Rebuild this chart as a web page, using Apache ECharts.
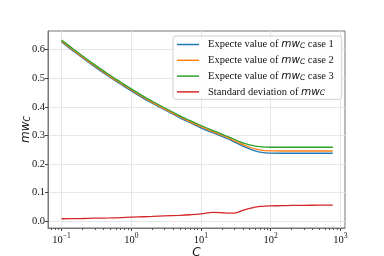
<!DOCTYPE html>
<html><head><meta charset="utf-8">
<script src="https://cdn.jsdelivr.net/npm/echarts@6/dist/echarts.min.js"></script>
<style>html,body{margin:0;padding:0;background:#fff}#c{width:384px;height:256px}</style>
</head><body><div id="c"></div>
<script>
var C =      [0.1, 0.15, 0.2, 0.3, 0.5, 0.7, 1, 1.5, 2, 3, 5, 7, 10, 15, 20, 25, 30, 35, 40, 50, 60, 70, 85, 100, 150, 200, 300, 500, 780];
var case1 =  [0.627,0.594,0.571,0.540,0.503,0.480,0.456,0.430,0.413,0.390,0.362,0.345,0.327,0.309,0.297,0.287,0.278,0.270,0.263,0.253,0.246,0.242,0.2395,0.2385,0.238,0.238,0.238,0.238,0.238];
var case2 =  [0.630,0.597,0.574,0.543,0.506,0.483,0.459,0.433,0.416,0.393,0.365,0.348,0.331,0.313,0.301,0.291,0.282,0.275,0.268,0.259,0.253,0.2495,0.247,0.2465,0.246,0.246,0.246,0.246,0.246];
var case3 =  [0.634,0.601,0.578,0.547,0.510,0.487,0.463,0.437,0.420,0.397,0.369,0.352,0.335,0.317,0.305,0.295,0.287,0.280,0.274,0.267,0.263,0.261,0.2595,0.259,0.259,0.259,0.259,0.259,0.259];
var stdDev = [0.009,0.0095,0.010,0.011,0.012,0.013,0.015,0.016,0.017,0.019,0.021,0.023,0.026,0.031,0.030,0.0285,0.029,0.033,0.038,0.045,0.050,0.052,0.0535,0.054,0.055,0.0555,0.056,0.0565,0.057];
var xTickExps = [-1, 0, 1, 2, 3];
var yTicks = [0, 0.1, 0.2, 0.3, 0.4, 0.5, 0.6];
var seriesNames = ['case1', 'case2', 'case3', 'std'];
var legendTexts = {
  case1: 'Expecte value of {m|mw}{c|C} case 1',
  case2: 'Expecte value of {m|mw}{c|C} case 2',
  case3: 'Expecte value of {m|mw}{c|C} case 3',
  std: 'Standard deviation of {m|mw}{c|C}'
};
var colors = ['#1f77b4', '#ff7f0e', '#2ca02c', '#d62728'];

var minorX = [];
for (var e = -2; e <= 3; e++) for (var k = 2; k <= 9; k++) minorX.push(Math.log10(k) + e);

function pts(arr) { return C.map(function (c, i) { return [Math.log10(c), arr[i]]; }); }
var serif = 'Liberation Serif';
var sans = 'DejaVu Sans';
var XMIN = -1.195, XMAX = 3.068, YMIN = -0.0233, YMAX = 0.6655;
var spine = '#777';

var chart = echarts.init(document.getElementById('c'), null, {renderer: 'canvas'});
chart.setOption({
  animation: false,
  color: colors,
  grid: {left: 48, right: 39, top: 31, bottom: 28, outerBoundsMode: 'none', containLabel: false,
    show: true, borderColor: spine, borderWidth: 1, backgroundColor: 'transparent'},
  legend: {
    orient: 'vertical', left: 173, top: 36,
    data: seriesNames,
    icon: 'rect', itemWidth: 22, itemHeight: 1.5, itemGap: 4.8,
    padding: [3, 8, 2, 4],
    backgroundColor: 'rgba(255,255,255,0.85)', borderColor: '#d0d0d0', borderWidth: 1, borderRadius: 3,
    formatter: function (n) { return legendTexts[n]; },
    textStyle: {
      fontFamily: serif, fontSize: 10.5, color: '#111', padding: [0, 0, 0, 4], lineHeight: 11,
      rich: {
        m: {fontFamily: sans, fontStyle: 'italic', fontSize: 10.5, color: '#111', lineHeight: 11},
        c: {fontFamily: sans, fontStyle: 'italic', fontSize: 7.5, color: '#111', verticalAlign: 'bottom', lineHeight: 11, padding: [3, 0, 0, 0]}
      }
    }
  },
  xAxis: [{
    type: 'value', min: XMIN, max: XMAX, position: 'bottom',
    name: 'C', nameLocation: 'middle', nameGap: 19, nameMoveOverlap: false,
    nameTextStyle: {fontFamily: sans, fontStyle: 'italic', fontSize: 12, color: '#111'},
    axisLine: {show: true, onZero: false, lineStyle: {color: spine, width: 1}},
    axisTick: {show: true, length: 3, lineStyle: {color: '#444'}, customValues: xTickExps},
    axisLabel: {
      customValues: xTickExps, margin: 4, color: '#111',
      formatter: function (v) { var s = String(Math.round(v)).replace('-', '\u2212'); return '{b|10}{s|' + s + '}'; },
      rich: {
        b: {fontFamily: serif, fontSize: 10.5, color: '#111', lineHeight: 14, verticalAlign: 'bottom', padding: [4, 0, 0, 0]},
        s: {fontFamily: serif, fontSize: 7.5, color: '#111', lineHeight: 14, verticalAlign: 'top'}
      }
    },
    splitLine: {show: true, lineStyle: {color: '#e6e6e6', width: 1}}
  }, {
    type: 'value', min: XMIN, max: XMAX, position: 'bottom', gridIndex: 0,
    axisLine: {show: false, onZero: false},
    axisTick: {show: true, length: 2, lineStyle: {color: '#555'}, customValues: minorX},
    axisLabel: {show: false},
    splitLine: {show: false}
  }],
  yAxis: {
    type: 'value', min: YMIN, max: YMAX,
    name: '{m|mw}{c|C}', nameLocation: 'middle', nameGap: 16, nameRotate: 90, nameMoveOverlap: false,
    nameTextStyle: {
      rich: {
        m: {fontFamily: sans, fontStyle: 'italic', fontSize: 12, color: '#111'},
        c: {fontFamily: sans, fontStyle: 'italic', fontSize: 8, color: '#111', verticalAlign: 'bottom', padding: [5, 0, 0, 0]}
      }
    },
    axisLine: {show: true, onZero: false, lineStyle: {color: spine, width: 1}},
    axisTick: {show: true, length: 3, lineStyle: {color: '#444'}, customValues: yTicks},
    axisLabel: {customValues: yTicks, margin: 3, fontFamily: serif, fontSize: 10.5, color: '#111',
      formatter: function (v) { return v.toFixed(1); }},
    splitLine: {show: true, lineStyle: {color: '#e6e6e6', width: 1}}
  },
  series: [
    {name: 'case1', type: 'line', data: pts(case1), showSymbol: false, smooth: 0.4, lineStyle: {width: 1.3}},
    {name: 'case2', type: 'line', data: pts(case2), showSymbol: false, smooth: 0.4, lineStyle: {width: 1.3}},
    {name: 'case3', type: 'line', data: pts(case3), showSymbol: false, smooth: 0.4, lineStyle: {width: 1.3}},
    {name: 'std', type: 'line', data: pts(stdDev), showSymbol: false, smooth: 0.4, lineStyle: {width: 1.3}}
  ]
});
</script></body></html>
